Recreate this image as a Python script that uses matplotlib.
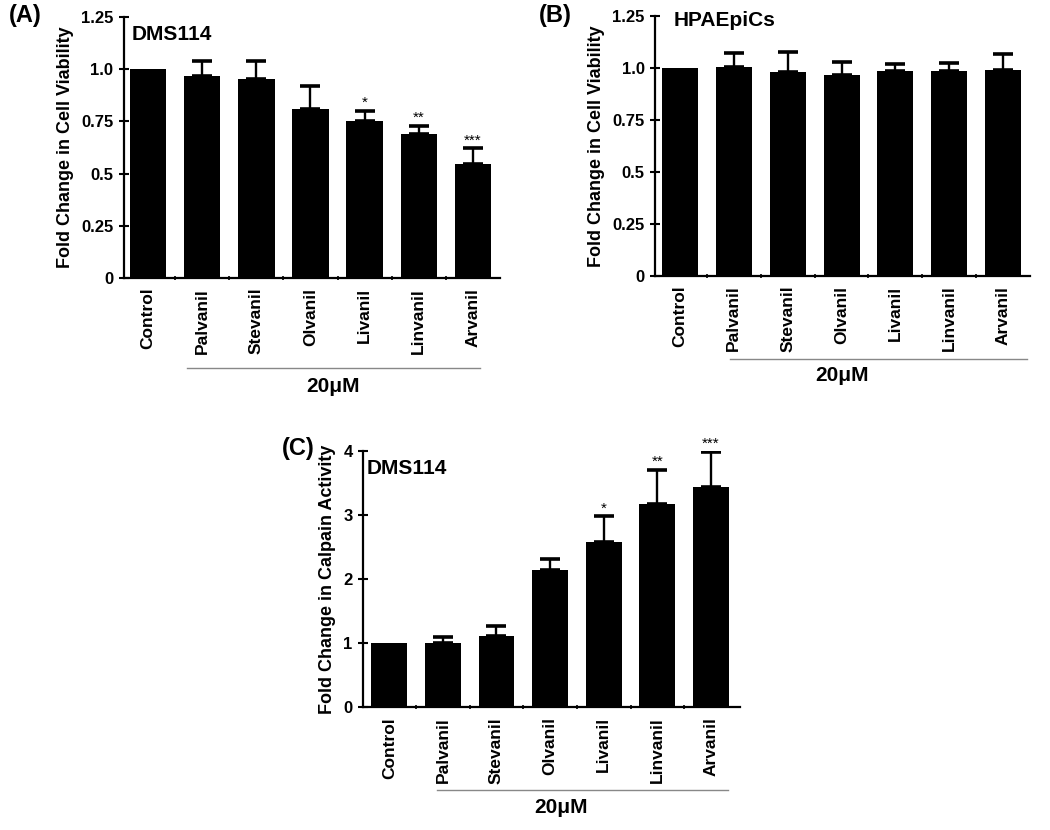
import matplotlib
matplotlib.use("Agg")
import matplotlib.pyplot as plt
import matplotlib.transforms as mtransforms
import numpy as np

plt.rcParams["font.family"] = ["Liberation Sans", "DejaVu Sans"]
plt.rcParams["font.weight"] = "bold"

drugs = ["Control", "Palvanil", "Stevanil", "Olvanil", "Livanil", "Linvanil", "Arvanil"]

# (A) DMS114 viability
via_dms = [1.0, 0.968, 0.952, 0.811, 0.754, 0.688, 0.544]
via_dms_err = [0.0, 0.069, 0.088, 0.109, 0.046, 0.040, 0.077]
via_dms_sig = ["", "", "", "", "*", "**", "***"]

# (B) HPAEpiCs viability
via_hpa = [1.0, 1.005, 0.981, 0.965, 0.987, 0.987, 0.990]
via_hpa_err = [0.0, 0.067, 0.099, 0.064, 0.032, 0.037, 0.079]

# (C) DMS114 calpain activity
calp = [1.0, 1.0, 1.11, 2.14, 2.58, 3.18, 3.44]
calp_err = [0.0, 0.10, 0.16, 0.18, 0.40, 0.53, 0.54]
calp_sig = ["", "", "", "", "*", "**", "***"]

fig = plt.figure(figsize=(10.5, 8.3), dpi=100)


def panel(rect, vals, errs, sigs, ymax, yticks, yticklabels, ylabel, cell,
          letter, letter_xy, cell_xy, xlim, line_x, line_y, conc_x, conc_y):
    ax = fig.add_axes(rect)
    x = np.arange(len(vals))
    ax.bar(x, vals, width=0.67, color="black", zorder=2)
    ax.errorbar(x[1:], vals[1:], yerr=[np.zeros(len(vals) - 1), errs[1:]],
                fmt="none", ecolor="black", elinewidth=1.7, capsize=7,
                capthick=2.6, zorder=1)
    for xi, v, e, s in zip(x, vals, errs, sigs):
        if s:
            ax.text(xi, v + e + ymax * 0.004, s, ha="center", va="bottom",
                    fontsize=11, fontweight="normal")
    ax.set_xlim(*xlim)
    ax.set_ylim(0, ymax)
    ax.set_yticks(yticks)
    ax.set_yticklabels(yticklabels, fontsize=12, fontweight="bold")
    ax.set_xticks(x)
    ax.set_xticklabels(drugs, rotation=90, fontsize=12.5, fontweight="bold", va="top")
    ax.set_xticks(x[:-1] + 0.5, minor=True)
    ax.tick_params(axis="x", which="major", length=0, pad=7)
    ax.tick_params(axis="x", which="minor", length=3, width=1.2, direction="inout")
    ax.tick_params(axis="y", length=7, width=1.5, direction="inout", pad=4)
    for side in ["top", "right"]:
        ax.spines[side].set_visible(False)
    for side in ["left", "bottom"]:
        ax.spines[side].set_linewidth(1.6)
    ax.set_ylabel(ylabel, fontsize=13, fontweight="bold", labelpad=5)
    ax.text(cell_xy[0], cell_xy[1], cell, transform=ax.transAxes,
            fontsize=15, fontweight="bold", ha="left", va="top")
    fig.text(letter_xy[0], letter_xy[1], letter, fontsize=17,
             fontweight="bold", ha="left", va="top")
    trans = mtransforms.blended_transform_factory(ax.transData, ax.transAxes)
    ax.plot(line_x, [line_y, line_y], color="#888888", lw=1.0,
            transform=trans, clip_on=False)
    ax.text(conc_x, conc_y, "20\u03bcM", transform=trans,
            ha="center", va="top", fontsize=15, fontweight="bold")
    return ax


via_ticks = [0, 0.25, 0.5, 0.75, 1.0, 1.25]
via_labels = ["0", "0.25", "0.5", "0.75", "1.0", "1.25"]

panel([0.118, 0.665, 0.358, 0.3145], via_dms, via_dms_err, via_dms_sig, 1.25,
      via_ticks, via_labels, "Fold Change in Cell Viability", "DMS114",
      "(A)", (0.008, 0.995), (0.02, 0.97), (-0.45, 6.5), (0.71, 6.14), -0.345,
      3.42, -0.38)

panel([0.624, 0.6675, 0.357, 0.313], via_hpa, via_hpa_err, [""] * 7, 1.25,
      via_ticks, via_labels, "Fold Change in Cell Viability", "HPAEpiCs",
      "(B)", (0.513, 0.995), (0.05, 1.02), (-0.46, 6.5), (0.93, 6.45), -0.32,
      3.01, -0.345)

panel([0.3457, 0.148, 0.359, 0.3086], calp, calp_err, calp_sig, 4,
      [0, 1, 2, 3, 4], ["0", "1", "2", "3", "4"], "Fold Change in Calpain Activity",
      "DMS114", "(C)", (0.268, 0.473), (0.01, 0.97), (-0.49, 6.54), (0.89, 6.31), -0.325,
      3.2, -0.355)

fig.savefig("out.png", dpi=100)
